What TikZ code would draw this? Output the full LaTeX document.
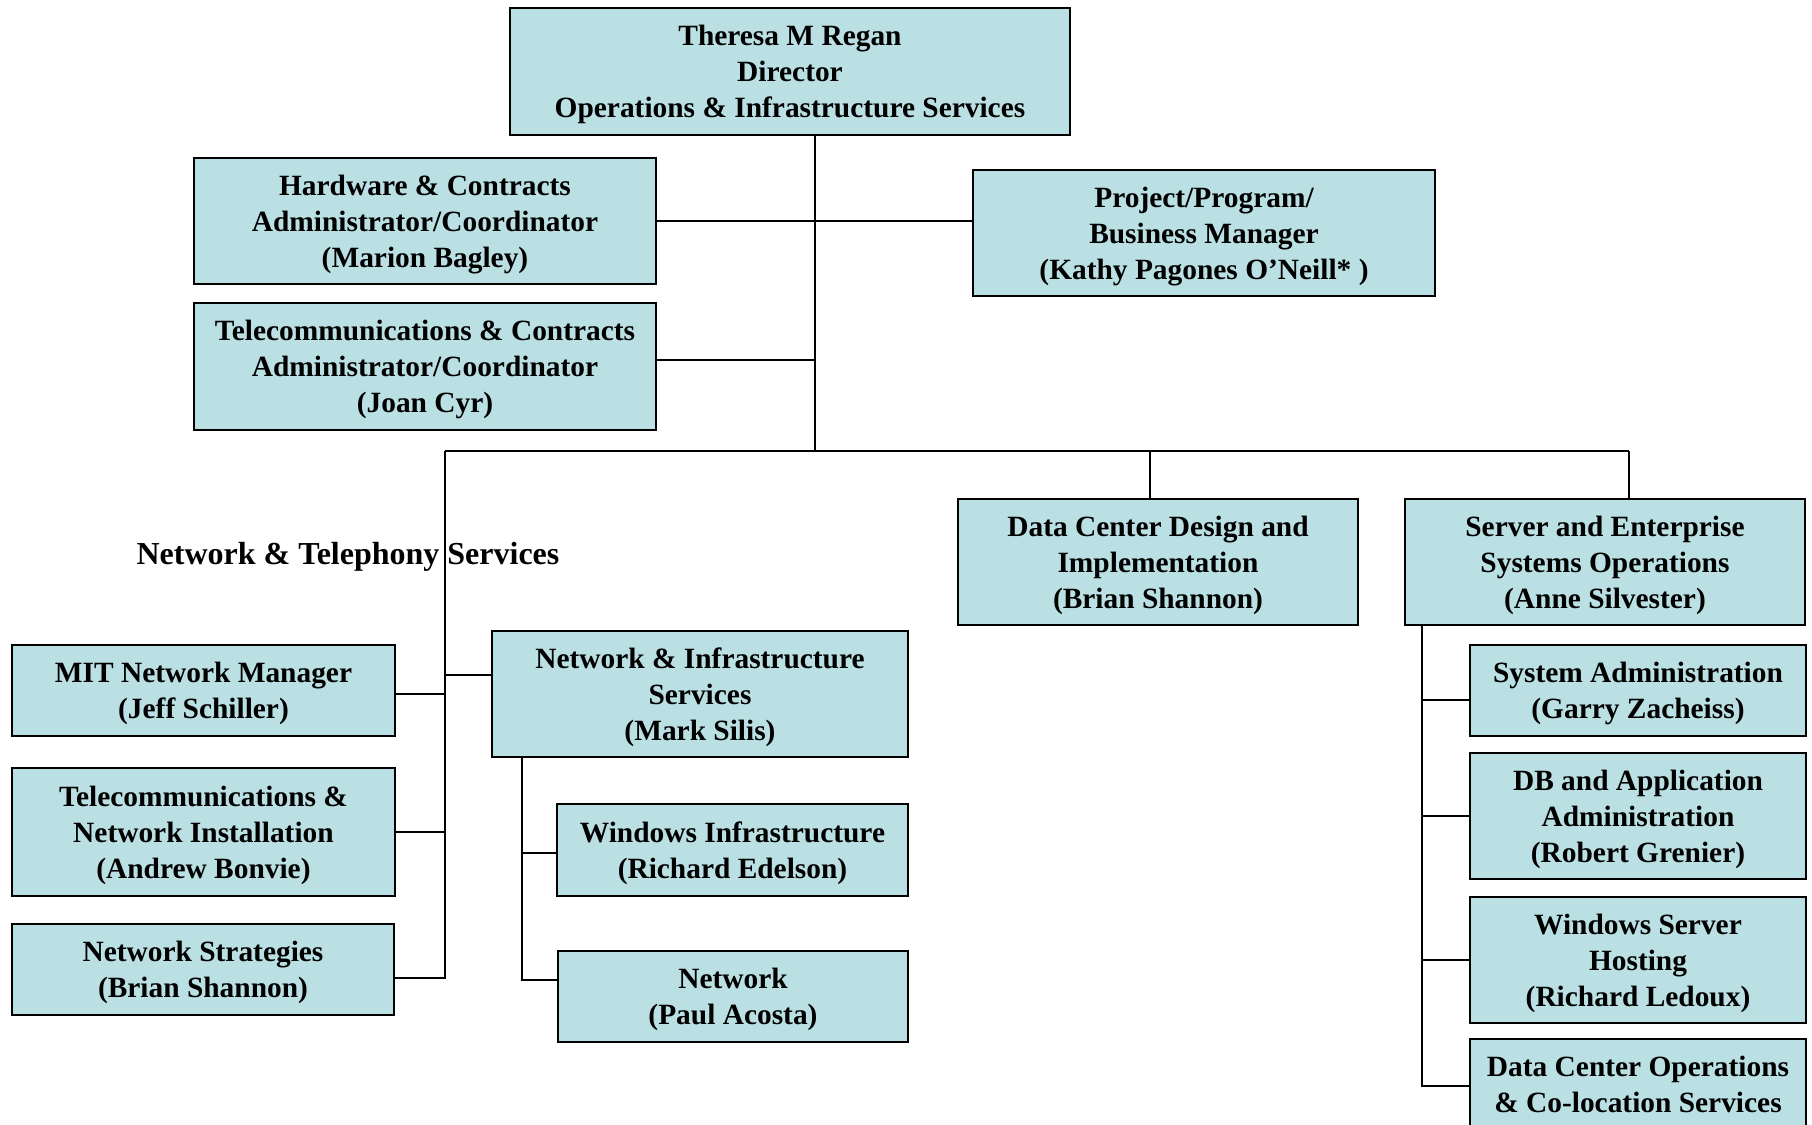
\documentclass[tikz,border=0pt]{standalone}
\usepackage{fontspec}
\setmainfont{Liberation Serif}
\usepackage{tikz}
\definecolor{boxfill}{RGB}{186,224,227}
\tikzset{
	unit/.style = {draw, line width=1.1pt, fill=boxfill, align=center, inner sep=0pt, text depth=0pt,
		font=\bfseries\fontsize{14.7}{18}\selectfont},
	link/.style = {line width=1pt}
}

\begin{document}
\begin{tikzpicture}[x=0.5pt, y=-0.5pt]
			\useasboundingbox (0,0) rectangle (1812,1125);
			% top level
			\node [unit, minimum width=280pt, minimum height=63.5pt] (dir) at (790,71.5)
				{Theresa M Regan\\Director\\Operations \& Infrastructure Services};
			\node [unit, minimum width=231pt, minimum height=63pt] (hwc) at (425,221)
				{Hardware \& Contracts\\Administrator/Coordinator\\(Marion Bagley)};
			\node [unit, minimum width=231pt, minimum height=63pt] (ppm) at (1204,233)
				{Project/Program/\\Business Manager\\(Kathy Pagones O’Neill* )};
			\node [unit, minimum width=231pt, minimum height=63.5pt] (tcc) at (425,366.5)
				{Telecommunications \& Contracts\\Administrator/Coordinator\\(Joan Cyr)};
			\node [unit, minimum width=200pt, minimum height=63pt] (dcd) at (1158,562)
				{Data Center Design and\\Implementation\\(Brian Shannon)};
			\node [unit, minimum width=200pt, minimum height=63pt] (seo) at (1605,562)
				{Server and Enterprise\\Systems Operations\\(Anne Silvester)};
			% network & telephony
			\node [font=\bfseries\fontsize{16}{19}\selectfont] (nts) at (348,557)
				{Network \& Telephony Services};
			\node [unit, minimum width=191.5pt, minimum height=45.5pt] (mit) at (203.5,690.5)
				{MIT Network Manager\\(Jeff Schiller)};
			\node [unit, minimum width=191.5pt, minimum height=64pt] (tni) at (203.5,832)
				{Telecommunications \&\\Network Installation\\(Andrew Bonvie)};
			\node [unit, minimum width=191pt, minimum height=45.5pt] (nst) at (203,969.5)
				{Network Strategies\\(Brian Shannon)};
			\node [unit, minimum width=208pt, minimum height=63pt] (nis) at (700,694)
				{Network \& Infrastructure\\Services\\(Mark Silis)};
			\node [unit, minimum width=175.5pt, minimum height=46pt] (win) at (732.5,850)
				{Windows Infrastructure\\(Richard Edelson)};
			\node [unit, minimum width=175pt, minimum height=45.5pt] (net) at (733,996.5)
				{Network\\(Paul Acosta)};
			% server & enterprise
			\node [unit, minimum width=168pt, minimum height=45.5pt] (sys) at (1638,690.5)
				{System Administration\\(Garry Zacheiss)};
			\node [unit, minimum width=168pt, minimum height=63pt] (dba) at (1638,816)
				{DB and Application\\Administration\\(Robert Grenier)};
			\node [unit, minimum width=168pt, minimum height=63pt] (wsh) at (1638,960)
				{Windows Server\\Hosting\\(Richard Ledoux)};
			\node [unit, minimum width=168pt, minimum height=63pt] (dco) at (1638,1102)
				{Data Center Operations\\\& Co-location Services\\\strut};

			% connectors
			\coordinate (trunk) at (815,451);
			\coordinate (busL) at (445,451);
			\coordinate (busM) at (1150,451);
			\coordinate (busR) at (1629,451);
			\draw [link] (dir.south -| trunk) -- (trunk);
			\draw [link] (hwc.east) -- (ppm.west |- hwc.east);
			\draw [link] ([yshift=3.5pt]tcc.east) -- ([yshift=3.5pt]tcc.east -| trunk);
			\draw [link] (busL) -- (busR);
			\draw [link] (busM) -- (busM |- dcd.north);
			\draw [link] (busR) -- (busR |- seo.north);

			\draw [link] (busL) |- ([yshift=-4pt]nst.east);
			\draw [link] ([yshift=-1.5pt]mit.east) -- ([yshift=-1.5pt]mit.east -| busL);
			\draw [link] (tni.east) -- (tni.east -| busL);
			\draw [link] ([yshift=9.5pt]nis.west) -- ([yshift=9.5pt]nis.west -| busL);

			\coordinate (nisdrop) at ([xshift=15.5pt]nis.south west);
			\draw [link] (nisdrop) |- ([yshift=8.5pt]net.west);
			\draw [link] ([yshift=-1.5pt]win.west) -- ([yshift=-1.5pt]win.west -| nisdrop);

			\coordinate (seodrop) at ([xshift=9pt]seo.south west);
			\draw [link] (seodrop) |- ([yshift=8pt]dco.west);
			\draw [link] ([yshift=-4.5pt]sys.west) -- ([yshift=-4.5pt]sys.west -| seodrop);
			\draw [link] (dba.west) -- (dba.west -| seodrop);
			\draw [link] (wsh.west) -- (wsh.west -| seodrop);
		\end{tikzpicture}
\end{document}
